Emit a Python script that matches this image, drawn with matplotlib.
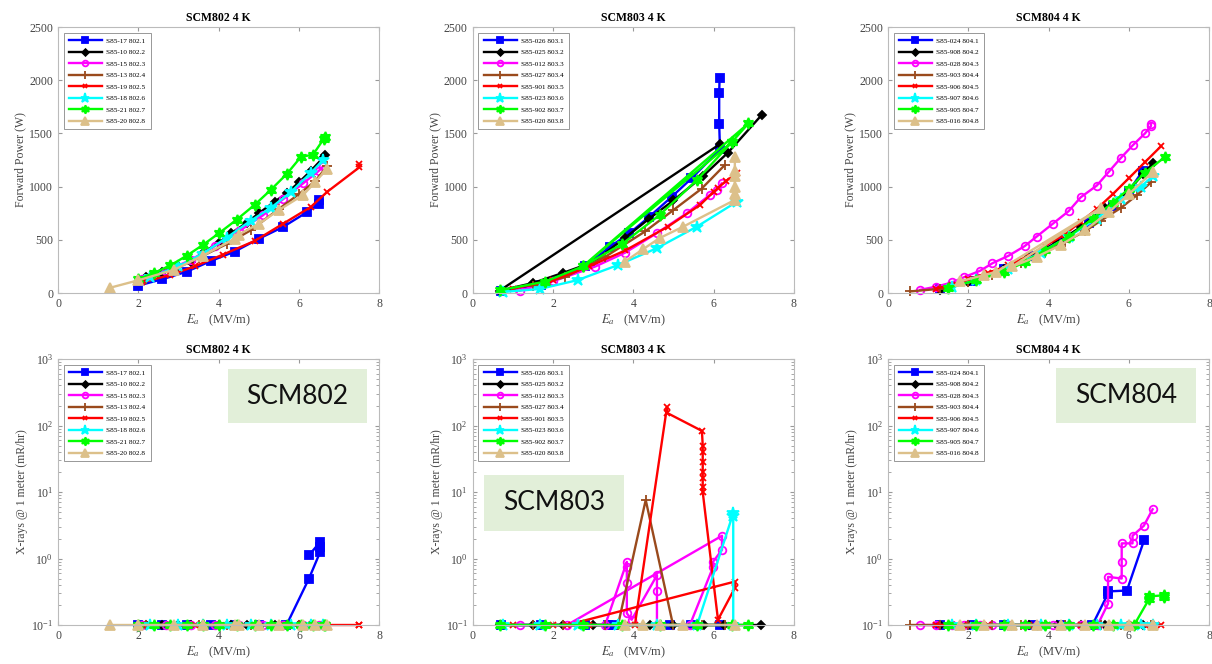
import matplotlib
matplotlib.use("Agg")
import matplotlib.pyplot as plt
from matplotlib.patches import Rectangle

plt.rcParams['font.family'] = ['Liberation Serif', 'DejaVu Serif']
plt.rcParams['mathtext.fontset'] = 'stix'

# ---------------- SCM802 ----------------
labels_802 = ["S85-17 802.1", "S85-10 802.2", "S85-15 802.3", "S85-13 802.4",
              "S85-19 802.5", "S85-18 802.6", "S85-21 802.7", "S85-20 802.8"]
ea_802 = [
    [2.0, 2.6, 3.2, 3.8, 4.4, 5.0, 5.6, 6.2, 6.5, 6.5],
    [2.2, 2.6, 3.0, 3.3, 3.6, 4.0, 4.3, 4.7, 5.0, 5.4, 5.7, 6.0, 6.3, 6.6, 6.65],
    [2.1, 2.7, 3.3, 3.9, 4.5, 5.1, 5.6, 6.1, 6.5, 6.6],
    [2.2, 2.9, 3.5, 4.2, 4.8, 5.5, 6.0, 6.4, 6.7],
    [2.1, 2.8, 3.4, 4.1, 4.9, 5.6, 6.3, 6.7, 7.5, 7.5],
    [2.3, 3.0, 3.6, 4.2, 4.8, 5.3, 5.8, 6.3, 6.6],
    [2.0, 2.4, 2.8, 3.2, 3.6, 4.0, 4.45, 4.9, 5.3, 5.7, 6.05, 6.35, 6.62, 6.65],
    [1.3, 2.0, 2.9, 3.6, 4.4, 4.5, 5.0, 5.5, 6.1, 6.4, 6.7],
]
pf_802 = [
    [70, 130, 200, 300, 390, 510, 620, 760, 840, 870],
    [150, 200, 250, 290, 380, 470, 560, 660, 750, 860, 940, 1040, 1150, 1270, 1300],
    [130, 210, 310, 440, 580, 730, 880, 1030, 1150, 1190],
    [130, 230, 330, 460, 590, 790, 930, 1050, 1190],
    [100, 170, 250, 360, 490, 650, 810, 950, 1180, 1210],
    [150, 250, 370, 520, 680, 800, 950, 1130, 1250],
    [130, 190, 260, 350, 450, 560, 690, 830, 970, 1120, 1280, 1300, 1450, 1470],
    [50, 120, 220, 350, 510, 550, 650, 780, 920, 1040, 1170],
]
xea_802 = [
    [2.0, 2.6, 3.2, 3.8, 4.4, 5.0, 5.69, 6.25, 6.53, 6.53, 6.53, 6.25],
    ea_802[1], ea_802[2], ea_802[3], ea_802[4], ea_802[5], ea_802[6], ea_802[7],
]
xr_802 = [
    [0.1, 0.1, 0.1, 0.1, 0.1, 0.1, 0.1, 0.5, 1.26, 1.5, 1.78, 1.12],
    [0.1, 0.1, 0.1, 0.1, 0.1, 0.1, 0.1, 0.1, 0.1, 0.1, 0.1, 0.1, 0.1, 0.1, 0.1],
    [0.1, 0.1, 0.1, 0.1, 0.1, 0.1, 0.1, 0.1, 0.1, 0.1],
    [0.1, 0.1, 0.1, 0.1, 0.1, 0.1, 0.1, 0.1, 0.1],
    [0.1, 0.1, 0.1, 0.1, 0.1, 0.1, 0.1, 0.1, 0.1, 0.1],
    [0.1, 0.1, 0.1, 0.1, 0.1, 0.1, 0.1, 0.1, 0.1],
    [0.1, 0.1, 0.1, 0.1, 0.1, 0.1, 0.1, 0.1, 0.1, 0.1, 0.1, 0.1, 0.1, 0.1],
    [0.1, 0.1, 0.1, 0.1, 0.1, 0.1, 0.1, 0.1, 0.1, 0.1, 0.1],
]

# ---------------- SCM803 ----------------
labels_803 = ["S85-026 803.1", "S85-025 803.2", "S85-012 803.3", "S85-027 803.4",
              "S85-901 803.5", "S85-023 803.6", "S85-902 803.7", "S85-020 803.8"]
ea_803 = [
    [0.7, 1.7, 2.8, 3.42, 3.9, 4.4, 4.96, 5.45, 6.16, 6.14, 6.14, 6.15],
    [6.16, 0.67, 1.5, 2.24, 3.0, 3.8, 4.4, 5.0, 5.74, 6.36, 7.2],
    [1.17, 2.0, 3.04, 3.8, 4.58, 5.33, 5.9, 6.08, 6.2],
    [1.5, 2.3, 3.3, 4.3, 5.0, 5.7, 6.28],
    [1.0, 2.0, 2.9, 3.8, 4.86, 5.66, 6.0, 6.11, 6.3, 6.58],
    [0.76, 1.67, 2.62, 3.62, 4.58, 5.58, 6.58],
    [0.67, 1.8, 2.74, 3.72, 4.66, 5.58, 6.46, 6.87, 2.74, 6.46],
    [3.79, 4.24, 4.66, 5.24, 6.53, 6.53, 6.53, 6.53, 6.53, 6.53],
]
pf_803 = [
    [20, 80, 250, 435, 560, 717, 905, 1077, 1350, 1590, 1880, 2020],
    [1400, 22, 94, 188, 290, 520, 700, 870, 1100, 1320, 1674],
    [22, 110, 247, 380, 561, 749, 920, 968, 1030],
    [70, 150, 340, 580, 780, 980, 1203],
    [40, 120, 250, 400, 623, 827, 950, 987, 1050, 1125],
    [10, 38, 122, 263, 420, 623, 858],
    [25, 107, 250, 460, 735, 1060, 1420, 1595, 250, 1420],
    [295, 411, 517, 623, 875, 930, 1000, 1100, 1150, 1280],
]
xea_803 = [
    [0.7, 1.7, 2.8, 3.38, 3.5, 4.92, 5.45, 6.17],
    [0.67, 1.5, 2.26, 3.0, 4.42, 5.0, 5.75, 6.25, 7.17],
    [1.17, 3.3, 3.84, 3.84, 3.84, 3.84, 3.96, 4.59, 4.59, 4.59, 5.41, 5.99, 5.99, 6.21, 6.21, 2.35],
    [1.5, 2.26, 3.3, 3.62, 4.31, 4.99, 5.7, 6.28],
    [1.0, 2.0, 2.9, 3.8, 4.04, 4.84, 4.84, 5.71, 5.73, 5.73, 5.73, 5.73, 5.73, 5.73, 5.73,
     6.11, 6.53, 6.53, 2.35],
    [0.76, 1.67, 2.62, 3.62, 4.58, 5.59, 6.49, 6.49, 6.49],
    [0.67, 1.8, 2.74, 3.72, 4.66, 5.58, 6.46, 6.87],
    [3.79, 4.24, 4.66, 5.24, 6.53],
]
xr_803 = [
    [0.1, 0.1, 0.1, 0.1, 0.1, 0.1, 0.1, 0.1],
    [0.1, 0.1, 0.1, 0.1, 0.1, 0.1, 0.1, 0.1, 0.1],
    [0.1, 0.1, 0.89, 0.75, 0.43, 0.15, 0.12, 0.56, 0.32, 0.1, 0.1, 0.75, 0.9, 1.35, 2.2, 0.1],
    [0.1, 0.1, 0.1, 0.1, 7.6, 0.1, 0.1, 0.1],
    [0.1, 0.1, 0.1, 0.1, 0.1, 190, 155, 83, 50, 40, 28, 20, 16, 12, 10,
     0.12, 0.36, 0.45, 0.1],
    [0.1, 0.1, 0.1, 0.1, 0.1, 0.1, 4.8, 4.3, 0.1],
    [0.1, 0.1, 0.1, 0.1, 0.1, 0.1, 0.1, 0.1],
    [0.1, 0.1, 0.1, 0.1, 0.1],
]

# ---------------- SCM804 ----------------
labels_804 = ["S85-024 804.1", "S85-908 804.2", "S85-028 804.3", "S85-903 804.4",
              "S85-906 804.5", "S85-907 804.6", "S85-905 804.7", "S85-016 804.8"]
ea_804 = [
    [1.3, 2.1, 2.9, 3.6, 4.3, 5.0, 5.6, 6.0, 6.35],
    [1.3, 2.0, 2.9, 3.5, 4.2, 4.8, 5.4, 6.0, 6.35, 6.6],
    [0.8, 1.2, 1.6, 1.9, 2.3, 2.6, 3.0, 3.4, 3.7, 4.1, 4.5, 4.8, 5.2, 5.5, 5.8, 6.1, 6.4, 6.55, 6.55],
    [0.55, 1.3, 2.0, 2.6, 3.3, 3.9, 4.4, 4.9, 5.3, 5.8, 6.2, 6.55],
    [1.2, 1.6, 2.0, 2.5, 3.0, 3.5, 3.9, 4.4, 4.8, 5.2, 5.6, 6.0, 6.4, 6.8],
    [1.6, 2.2, 3.0, 3.8, 4.5, 5.2, 5.8, 6.3, 6.6],
    [1.5, 2.2, 2.9, 3.4, 3.9, 4.5, 5.1, 5.6, 6.0, 6.4, 6.9],
    [1.8, 2.4, 2.7, 5.3, 3.1, 3.7, 4.3, 4.9, 5.5, 6.0, 6.6],
]
pf_804 = [
    [40, 110, 230, 350, 500, 660, 820, 960, 1150],
    [30, 100, 230, 340, 470, 620, 800, 960, 1120, 1220],
    [30, 60, 100, 150, 210, 280, 350, 440, 530, 650, 770, 900, 1010, 1140, 1270, 1390, 1500, 1570, 1590],
    [15, 40, 100, 170, 280, 380, 480, 580, 680, 800, 920, 1040],
    [40, 80, 130, 190, 260, 350, 440, 550, 670, 790, 930, 1080, 1230, 1380],
    [60, 120, 230, 380, 530, 700, 880, 1000, 1100],
    [50, 120, 200, 290, 400, 530, 700, 850, 980, 1130, 1280],
    [110, 170, 200, 800, 250, 340, 450, 590, 760, 930, 1140],
]
xea_804 = [
    [1.3, 2.1, 2.9, 3.6, 4.3, 5.09, 5.47, 5.47, 5.95, 6.38],
    ea_804[1],
    [0.8, 1.2, 1.6, 1.9, 2.3, 2.6, 3.0, 3.4, 3.7, 4.1, 4.5, 4.8, 5.22, 5.48, 5.48,
     5.82, 5.82, 5.82, 6.09, 6.09, 6.37, 6.59],
    ea_804[3],
    ea_804[4],
    ea_804[5],
    [1.5, 2.2, 2.9, 3.4, 3.9, 4.5, 5.1, 5.6, 6.13, 6.51, 6.51, 6.88, 6.88],
    [1.8, 2.4, 3.1, 3.7, 4.3, 4.9, 5.5, 6.0, 6.6],
]
xr_804 = [
    [0.1, 0.1, 0.1, 0.1, 0.1, 0.1, 0.29, 0.32, 0.33, 1.9],
    [0.1, 0.1, 0.1, 0.1, 0.1, 0.1, 0.1, 0.1, 0.1, 0.1],
    [0.1, 0.1, 0.1, 0.1, 0.1, 0.1, 0.1, 0.1, 0.1, 0.1, 0.1, 0.1, 0.1, 0.21, 0.53,
     0.5, 0.89, 1.69, 1.69, 2.2, 3.1, 5.5],
    [0.1, 0.1, 0.1, 0.1, 0.1, 0.1, 0.1, 0.1, 0.1, 0.1, 0.1, 0.1],
    [0.1, 0.1, 0.1, 0.1, 0.1, 0.1, 0.1, 0.1, 0.1, 0.1, 0.1, 0.1, 0.1, 0.1],
    [0.1, 0.1, 0.1, 0.1, 0.1, 0.1, 0.1, 0.1, 0.1],
    [0.1, 0.1, 0.1, 0.1, 0.1, 0.1, 0.1, 0.1, 0.1, 0.25, 0.27, 0.28, 0.26],
    [0.1, 0.1, 0.1, 0.1, 0.1, 0.1, 0.1, 0.1, 0.1],
]

# series styles (same for every cavity)
colors = ['#0000ff', '#000000', '#ff00ff', '#9a4a1c', '#ff0000', '#00ffff', '#00ff00', '#dcc08a']
markers = ['s', 'D', 'o', '+', 'x', '*', (6, 1, 0), '^']
msizes = [5.5, 4.5, 5.5, 7, 4.5, 9, 8, 7]

fig = plt.figure(figsize=(12.12, 6.64), dpi=100)

lefts = [0.0479, 0.390, 0.7327]
width = 0.2650
top_bottom, bot_bottom, height = 0.5587, 0.0587, 0.4006

panels = [
    ("SCM802 4 K", labels_802, ea_802, pf_802, xea_802, xr_802),
    ("SCM803 4 K", labels_803, ea_803, pf_803, xea_803, xr_803),
    ("SCM804 4 K", labels_804, ea_804, pf_804, xea_804, xr_804),
]


def style_axes(ax, title):
    ax.set_title(title, fontsize=8.5, fontweight='bold', pad=4)
    ax.set_xlim(0, 8)
    ax.set_xticks([0, 2, 4, 6, 8])
    ax.tick_params(direction='in', top=True, right=True, labelsize=8.5,
                   colors='#999999', labelcolor='#444444', length=3)
    ax.tick_params(which='minor', direction='in', top=True, right=True, colors='#999999')
    for s in ax.spines.values():
        s.set_color('#bbbbbb')
        s.set_linewidth(0.8)
    ax.set_xlabel(r'$E_{a}$   (MV/m)', fontsize=9, color='#444444', labelpad=2)


def draw(ax, labels, xs, ys):
    for i in range(8):
        mfc = 'none' if markers[i] == 'o' else colors[i]
        ax.plot(xs[i], ys[i], color=colors[i], marker=markers[i], markersize=msizes[i],
                markerfacecolor=mfc, markeredgecolor=colors[i], markeredgewidth=1.3,
                linewidth=1.7, label=labels[i], clip_on=False)
    leg = ax.legend(loc='upper left', fontsize=5.2, handlelength=4.6, labelspacing=0.75,
                    borderaxespad=0.8, fancybox=False, edgecolor='#888888', markerscale=0.75,
                    borderpad=0.7, handletextpad=0.6, framealpha=1)
    leg.get_frame().set_linewidth(0.6)
    leg.set_zorder(10)


for k, (title, labels, ea, pf, xea, xr) in enumerate(panels):
    ax = fig.add_axes([lefts[k], top_bottom, width, height])
    draw(ax, labels, ea, pf)
    ax.set_ylim(0, 2500)
    ax.set_yticks([0, 500, 1000, 1500, 2000, 2500])
    style_axes(ax, title)
    ax.set_ylabel("Forward Power (W)", fontsize=8.5, color='#444444', labelpad=2)

    bx = fig.add_axes([lefts[k], bot_bottom, width, height])
    draw(bx, labels, xea, xr)
    bx.set_yscale('log')
    bx.set_ylim(0.1, 1000)
    style_axes(bx, title)
    bx.set_ylabel("X-rays @ 1 meter (mR/hr)", fontsize=8.5, color='#444444', labelpad=2)

# green tag boxes pasted on the x-ray panels
tags = [("SCM802", 228, 369, 139, 54), ("SCM803", 484, 475, 140, 56), ("SCM804", 1056, 368, 140, 55)]
for name, px, py, pw, ph in tags:
    x0 = px / 1212
    y0 = 1 - (py + ph) / 664
    fig.add_artist(Rectangle((x0, y0), pw / 1212, ph / 664, transform=fig.transFigure,
                             facecolor='#e2efd9', edgecolor='none', zorder=5))
    fig.text(x0 + pw / 2424, y0 + ph / 1328, name, fontsize=19, family='Lato',
             ha='center', va='center', color='#111111', zorder=6)

fig.savefig("out.png", dpi=100)
